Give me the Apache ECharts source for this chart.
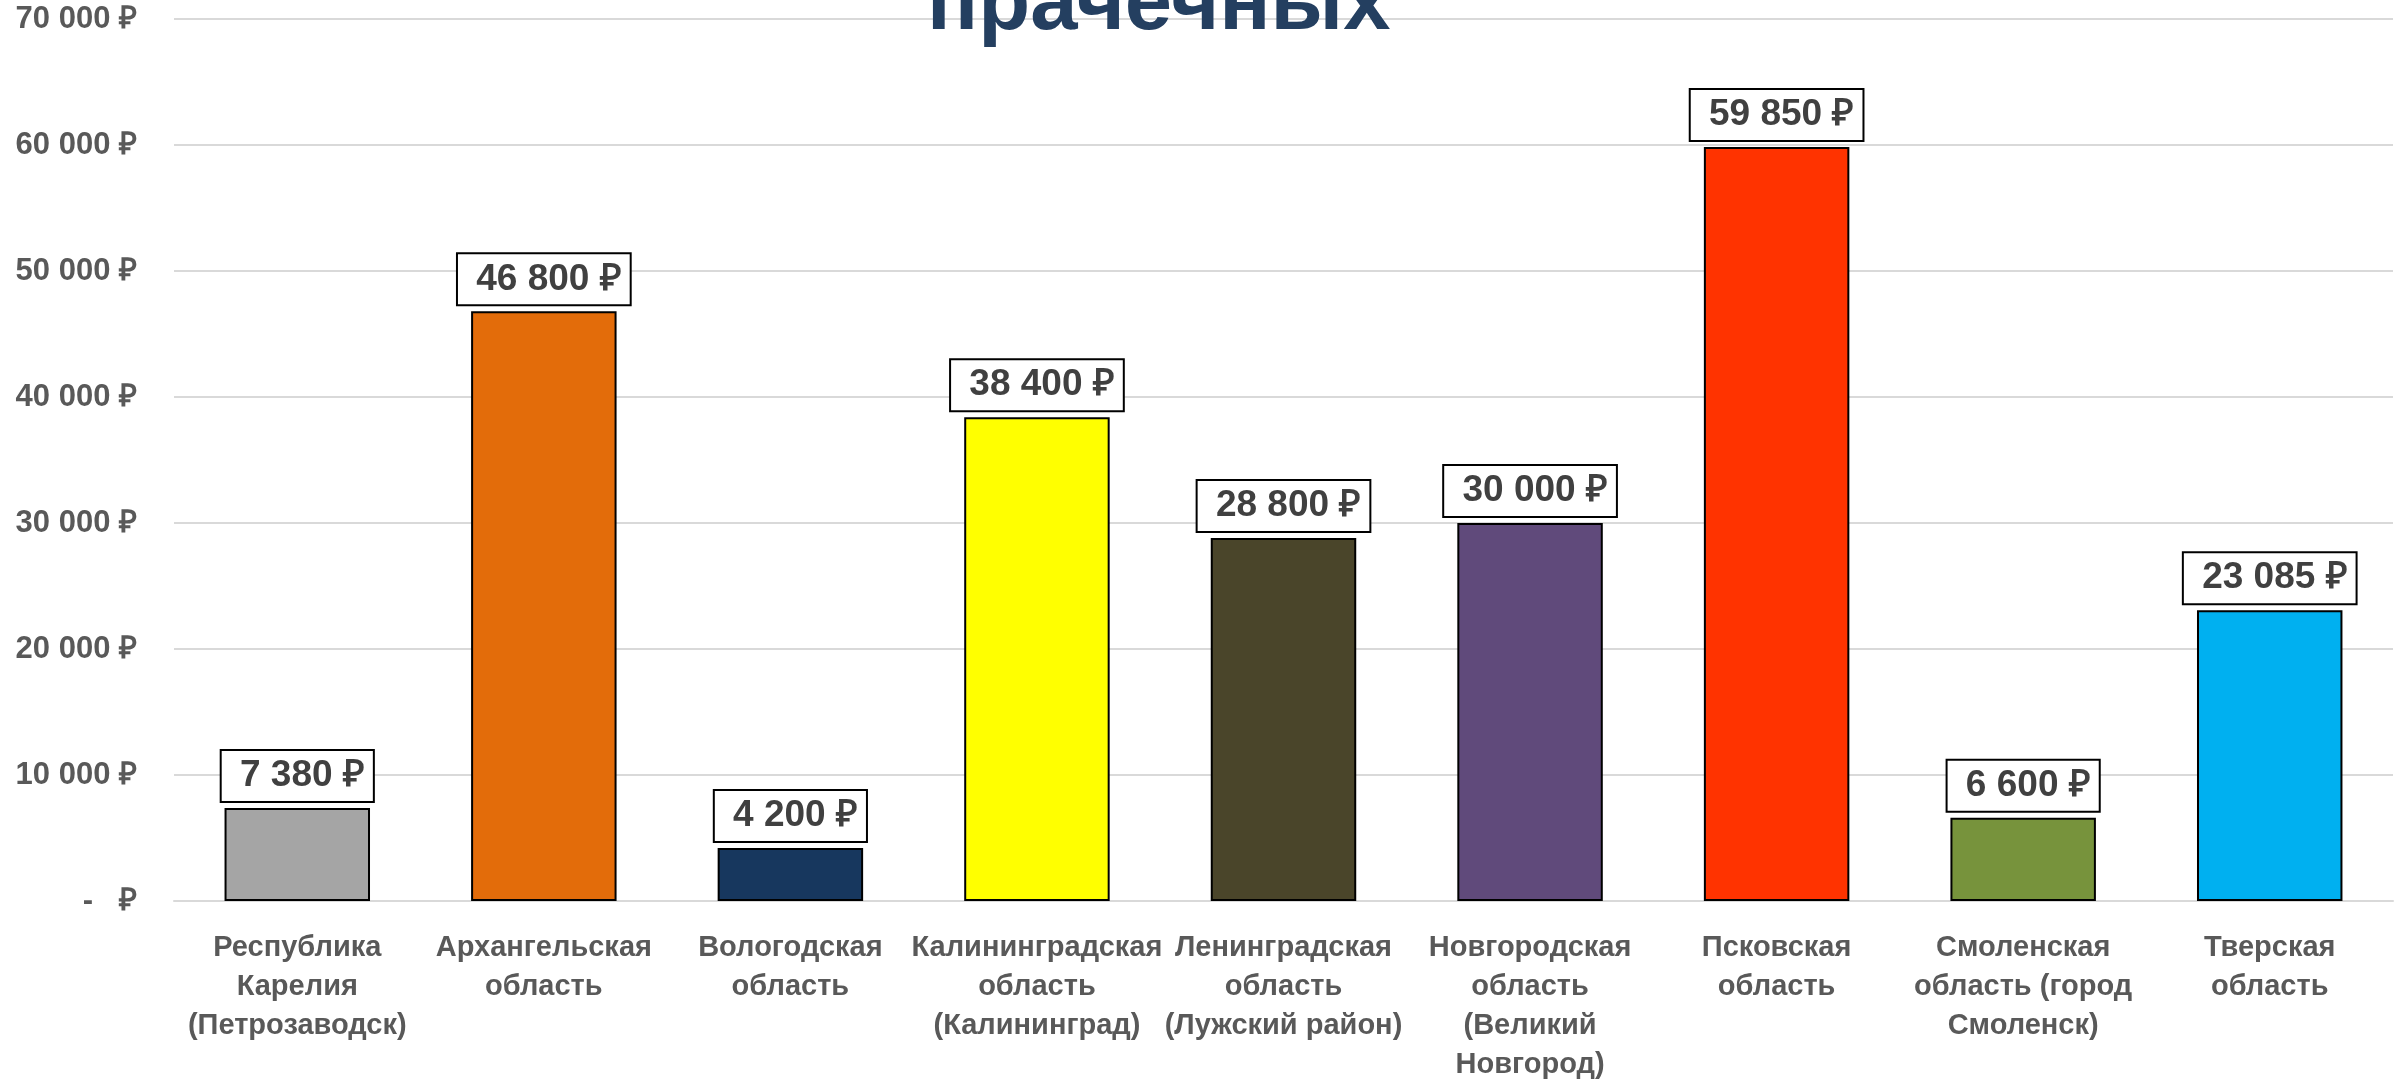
<!DOCTYPE html>
<html>
<head>
<meta charset="utf-8">
<script src="https://cdn.jsdelivr.net/npm/echarts@6/dist/echarts.min.js"></script>
<style>
  html, body { margin: 0; padding: 0; background: #fff; }
  #chart { width: 2405px; height: 1084px; }
</style>
</head>
<body>
<div id="chart"></div>
<script>
// Стоимость услуг прачечных по регионам
const regions = [
    'Республика\nКарелия\n(Петрозаводск)',
    'Архангельская\nобласть',
    'Вологодская\nобласть',
    'Калининградская\nобласть\n(Калининград)',
    'Ленинградская\nобласть\n(Лужский район)',
    'Новгородская\nобласть\n(Великий\nНовгород)',
    'Псковская\nобласть',
    'Смоленская\nобласть (город\nСмоленск)',
    'Тверская\nобласть'
];
const prices = [7380, 46800, 4200, 38400, 28800, 30000, 59850, 6600, 23085];
const yTicks = [0, 10000, 20000, 30000, 40000, 50000, 60000, 70000];

const palette = ['#A5A5A5', '#E36C0A', '#17375E', '#FFFF00', '#4A452A', '#604A7B', '#FF3300', '#77933C', '#00B0F0'];
const font = '"Liberation Sans", Arial, sans-serif';

function rub(v) {
    if (v === 0) return '-   \u20BD';
    return String(v).replace(/\B(?=(\d{3})+(?!\d))/g, ' ') + ' \u20BD';
}

const chart = echarts.init(document.getElementById('chart'));

chart.setOption({
    animation: false,
    backgroundColor: '#fff',
    title: {
        text: 'прачечных',
        left: 927,
        top: -37,
        padding: 0,
        textStyle: {
            fontFamily: font,
            fontWeight: 'bold',
            fontSize: 85,
            color: '#243F60'
        }
    },
    grid: {
        left: 174,
        right: 12,
        top: 19,
        bottom: 182,
        containLabel: false
    },
    xAxis: {
        type: 'category',
        data: regions,
        axisTick: { show: false },
        axisLine: { lineStyle: { color: '#D9D9D9', width: 2 } },
        axisLabel: {
            interval: 0,
            margin: 27,
            fontFamily: font,
            fontWeight: 'bold',
            fontSize: 29,
            lineHeight: 39,
            color: '#595959'
        }
    },
    yAxis: {
        type: 'value',
        min: yTicks[0],
        max: yTicks[yTicks.length - 1],
        interval: 10000,
        axisLine: { show: false },
        axisTick: { show: false },
        splitLine: { lineStyle: { color: '#D9D9D9', width: 2 } },
        axisLabel: {
            margin: 37,
            fontFamily: font,
            fontWeight: 'bold',
            fontSize: 31,
            color: '#595959',
            formatter: rub
        }
    },
    series: [{
        type: 'bar',
        data: prices.map((v, i) => ({ value: v, itemStyle: { color: palette[i] } })),
        barCategoryGap: '41%',
        itemStyle: {
            borderColor: '#000',
            borderWidth: 2
        },
        label: {
            show: true,
            position: 'top',
            distance: 7,
            formatter: p => ' ' + rub(p.value),
            fontFamily: font,
            fontWeight: 'bold',
            fontSize: 37,
            lineHeight: 42,
            color: '#404040',
            backgroundColor: '#fff',
            borderColor: '#000',
            borderWidth: 2,
            padding: [4, 8, 4, 8]
        }
    }]
});

window.addEventListener('resize', function() {
    chart.resize();
});
</script>
</body>
</html>
